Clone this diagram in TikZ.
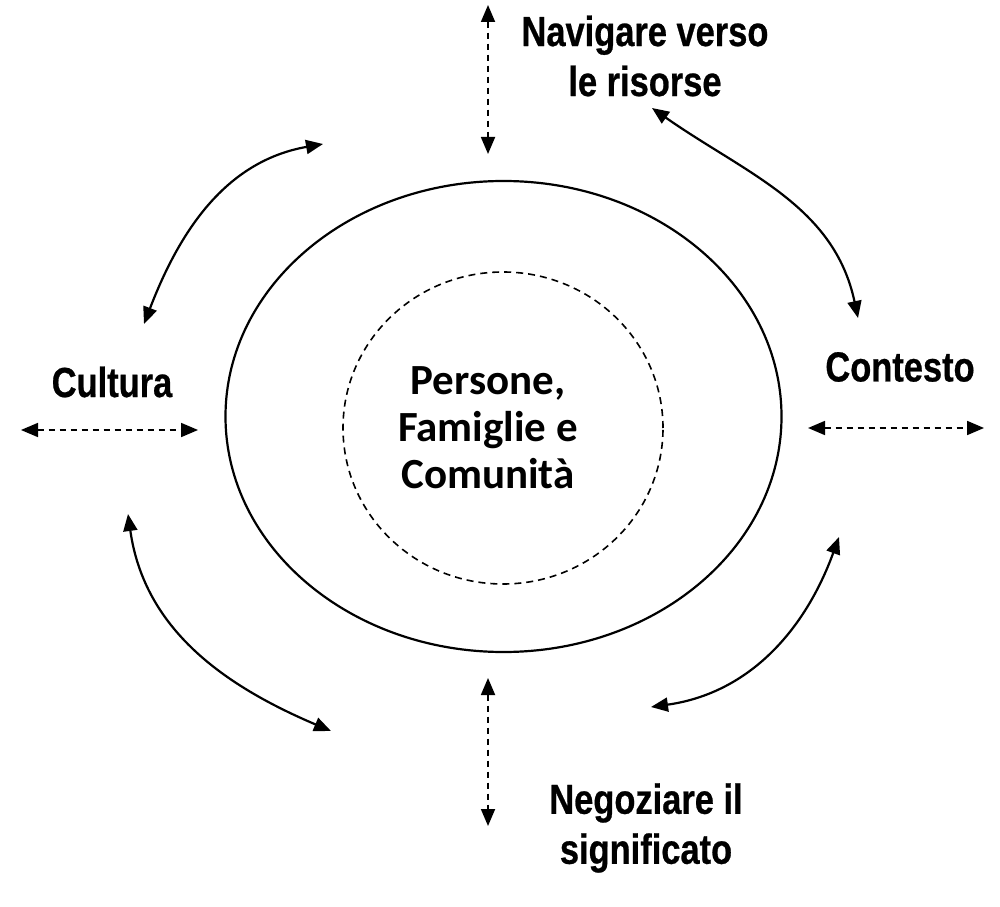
\documentclass[tikz,border=0pt]{standalone}
\usepackage{fontspec}
\newfontfamily\labelfont{Liberation Sans}[FakeStretch=0.82,FakeBold=0.6]
\newfontfamily\centerfont{Carlito}
\usetikzlibrary{shapes.geometric,arrows.meta}
\tikzset{
  lbl/.style={font=\labelfont\bfseries\fontsize{42}{50}\selectfont, align=center, inner sep=0pt},
  ctr/.style={font=\centerfont\bfseries\fontsize{43}{47}\selectfont, align=center, inner sep=0pt},
  dasharrow/.style={line width=1.8pt, dash pattern=on 6pt off 5pt, {Triangle[length=17pt,width=14pt]}-{Triangle[length=17pt,width=14pt]}},
  curvearrow/.style={line width=2.2pt, {Triangle[length=17pt,width=14pt]}-{Triangle[length=17pt,width=14pt]}},
}
\begin{document}
\begin{tikzpicture}[x=1pt,y=1pt]
\useasboundingbox (0,0) rectangle (1000,906);
% ellipses
\node[ellipse, draw, line width=2.2pt, minimum width=556pt, minimum height=471pt, inner sep=0pt] (outer) at (503.5,489.5) {};
\node[ellipse, draw, line width=1.6pt, dash pattern=on 7pt off 5pt, minimum width=320pt, minimum height=312pt, inner sep=0pt] (inner) at (503,478) {};
\node[ctr] (centre) at (488,478) {Persone,\\Famiglie e\\Comunità};
% labels
\node[lbl] (nav) at (645,850) {Navigare verso\\le risorse};
\node[lbl] (cult) at (112,524) {Cultura};
\node[lbl] (cont) at (900,539) {Contesto};
\node[lbl] (neg) at (646,78) {Negoziare il\\significato};
% arrow end points
\coordinate (t1) at (488,901);
\coordinate (t2) at (488,752);
\coordinate (b1) at (488,228);
\coordinate (b2) at (488,80);
\coordinate (l1) at (21,476);
\coordinate (l2) at (198,476);
\coordinate (r1) at (808,478);
\coordinate (r2) at (984,478);
\coordinate (tla) at (323,762);
\coordinate (tlb) at (144,582);
\coordinate (tra) at (652,798);
\coordinate (trb) at (858,588);
\coordinate (bla) at (128,392);
\coordinate (blb) at (331,175);
\coordinate (bra) at (839,369);
\coordinate (brb) at (651,199);
% dashed arrows
\draw[dasharrow] (t1) -- (t2);
\draw[dasharrow] (b1) -- (b2);
\draw[dasharrow] (l1) -- (l2);
\draw[dasharrow] (r1) -- (r2);
% curved arrows
\draw[curvearrow] (tla) to[out=190,in=69] (tlb);
\draw[curvearrow] (tra) to[out=325,in=102] (trb);
\draw[curvearrow] (bla) to[out=278,in=157] (blb);
\draw[curvearrow] (bra) to[out=250,in=8] (brb);
\end{tikzpicture}
\end{document}
